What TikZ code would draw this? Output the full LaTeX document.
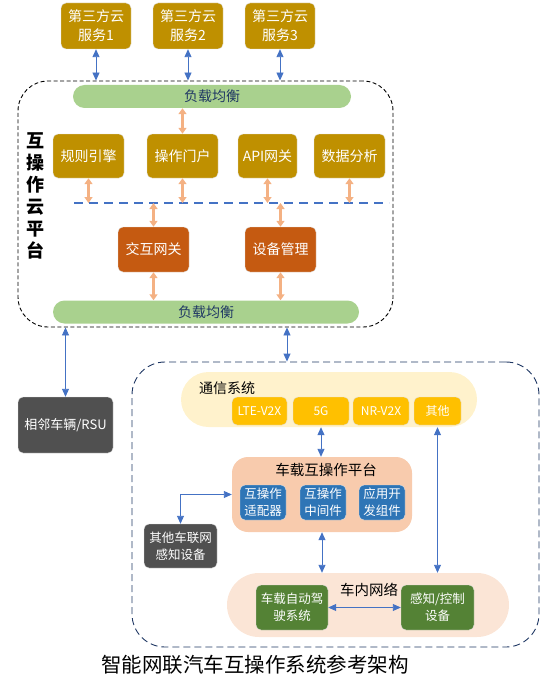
\documentclass[tikz,border=0pt]{standalone}
\usepackage{fontspec}
\setmainfont{Noto Sans CJK SC}
\usepackage{xcolor}
\usetikzlibrary{arrows.meta}
\definecolor{goldbox}{HTML}{BF9000}
\definecolor{lbgreen}{HTML}{A9D18E}
\definecolor{navytext}{HTML}{203864}
\definecolor{rustbox}{HTML}{C55A11}
\definecolor{greybox}{HTML}{505050}
\definecolor{commfill}{HTML}{FFF2CC}
\definecolor{amberbox}{HTML}{FFC000}
\definecolor{platfill}{HTML}{F8CBAD}
\definecolor{bluebox}{HTML}{2E75B6}
\definecolor{incarfill}{HTML}{FBE5D6}
\definecolor{greenbox}{HTML}{548235}
\definecolor{linkblue}{HTML}{4472C4}
\definecolor{linkorange}{HTML}{F4B183}

\begin{document}
\begin{tikzpicture}[x=1pt, y=-1pt,
    box/.style={rectangle, rounded corners=5pt, draw=black!12, text=white, align=center, inner sep=1pt, font=\fontsize{14}{19}\selectfont},
    smallbox/.style={box, font=\fontsize{12.5}{17}\selectfont},
    pill/.style={rectangle, rounded corners=11.5pt, fill=lbgreen, text=navytext, minimum height=23pt, font=\fontsize{14}{16}\selectfont},
    title/.style={inner sep=0pt, text=black, font=\fontsize{14.5}{16}\selectfont},
    barrow/.style={{Triangle[width=7pt,length=8pt]}-{Triangle[width=7pt,length=8pt]}, line width=0.9pt, draw=linkblue},
    oarrow/.style={{Triangle[width=8pt,length=6pt]}-{Triangle[width=8pt,length=6pt]}, line width=2.2pt, draw=linkorange}
]
\useasboundingbox (0,0) rectangle (556,682);

\node[rectangle, draw=black, line width=0.9pt, dash pattern=on 4pt off 2.5pt, rounded corners=30pt, minimum width=375pt, minimum height=246pt] (cloud) at (205.5,204) {};
\node[rectangle, draw=navytext, line width=0.9pt, dash pattern=on 7pt off 4pt, rounded corners=33pt, minimum width=407pt, minimum height=285pt] (vehicle) at (335.5,504.5) {};

\node[box, fill=goldbox, minimum width=70pt, minimum height=46pt] (svc1) at (96,26)  {第三方云\\服务1};
\node[box, fill=goldbox, minimum width=70pt, minimum height=46pt] (svc2) at (188,26) {第三方云\\服务2};
\node[box, fill=goldbox, minimum width=70pt, minimum height=46pt] (svc3) at (280,26) {第三方云\\服务3};

\node[pill, minimum width=278pt] (lbtop) at (212,96.5) {负载均衡};
\node[pill, minimum width=306pt] (lbbot) at (206,312) {负载均衡};

\node[inner sep=0pt, align=center, font=\fontsize{18}{22}\bfseries] (side) at (35,196) {互\\操\\作\\云\\平\\台};

\node[box, fill=goldbox, minimum width=71pt, minimum height=44pt] (rule)   at (88.5,156)  {规则引擎};
\node[box, fill=goldbox, minimum width=71pt, minimum height=44pt] (portal) at (182.5,156) {操作门户};
\node[box, fill=goldbox, minimum width=59pt, minimum height=44pt] (api)    at (267.5,156) {API网关};
\node[box, fill=goldbox, minimum width=71pt, minimum height=44pt] (data)   at (349.5,156) {数据分析};

\coordinate (dl) at (74,203);
\coordinate (dr) at (389,203);
\draw[linkblue, line width=1.8pt, dash pattern=on 9pt off 6pt] (dl) -- (dr);

\node[box, fill=rustbox, minimum width=71pt, minimum height=45pt] (gw)  at (153.5,249.5) {交互网关};
\node[box, fill=rustbox, minimum width=71pt, minimum height=45pt] (dev) at (280.5,249.5) {设备管理};

\foreach \s in {svc1,svc2,svc3}{\draw[barrow] (\s.south) -- (\s.south |- cloud.north);}
\draw[oarrow] (portal.north |- lbtop.south) -- (portal.north);
\foreach \b in {rule,portal,api,data}{\draw[oarrow] (\b.south) -- (\b.south |- dl);}
\foreach \b in {gw,dev}{
  \draw[oarrow] (\b.north |- dl) -- (\b.north);
  \draw[oarrow] (\b.south) -- (\b.south |- lbbot.north);
}

\node[box, fill=greybox, minimum width=95pt, minimum height=56pt, font=\fontsize{13}{16}\selectfont] (rsu) at (65.5,425) {相邻车辆/RSU};
\draw[barrow] (rsu.north |- cloud.south) -- (rsu.north);
\coordinate (vlink) at (287,0);
\draw[barrow] (vlink |- cloud.south) -- (vlink |- vehicle.north);

\node[rectangle, rounded corners=27.5pt, fill=commfill, minimum width=296pt, minimum height=55pt] (comm) at (329,399.5) {};
\node[title, font=\fontsize{14}{16}\selectfont] (commt) at (227,388) {通信系统};
\node[box, fill=amberbox, minimum width=55pt, minimum height=28pt, font=\fontsize{12}{14}\selectfont] (lte)   at (259.5,411) {LTE-V2X};
\node[box, fill=amberbox, minimum width=56pt, minimum height=28pt, font=\fontsize{12}{14}\selectfont] (g5)    at (321,411)   {5G};
\node[box, fill=amberbox, minimum width=56pt, minimum height=28pt, font=\fontsize{12}{14}\selectfont] (nr)    at (381,411)   {NR-V2X};
\node[box, fill=amberbox, minimum width=47pt, minimum height=28pt, font=\fontsize{12}{14}\selectfont] (other) at (437.5,411) {其他};

\node[rectangle, rounded corners=16pt, fill=platfill, minimum width=180pt, minimum height=75pt] (plat) at (322,494.5) {};
\node[title] (platt) at (326,470) {车载互操作平台};
\node[smallbox, fill=bluebox, minimum width=46pt, minimum height=35pt] (adapt) at (263,502.5) {互操作\\适配器};
\node[smallbox, fill=bluebox, minimum width=46pt, minimum height=35pt] (mid)   at (323,502.5) {互操作\\中间件};
\node[smallbox, fill=bluebox, minimum width=46pt, minimum height=35pt] (app)   at (382,502.5) {应用开\\发组件};

\node[smallbox, fill=greybox, minimum width=73pt, minimum height=44pt] (v2x) at (180.5,546) {其他车联网\\感知设备};

\node[rectangle, rounded corners=32pt, fill=incarfill, minimum width=282pt, minimum height=64pt] (incar) at (368,605) {};
\node[title] (incart) at (369,590) {车内网络};
\node[smallbox, fill=greenbox, minimum width=72pt, minimum height=45pt] (ads)   at (292,607.5)   {车载自动驾\\驶系统};
\node[smallbox, fill=greenbox, minimum width=73pt, minimum height=45pt] (sense) at (437.5,607.5) {感知/控制\\设备};

\draw[barrow] (plat.north -| g5.south) -- (g5.south |- comm.south);
\draw[barrow] (plat.south) -- (incar.north -| plat.south);
\draw[barrow] (other.south |- comm.south) -- (other.south |- incar.north);
\draw[barrow] (v2x.north) |- (plat.west);
\draw[barrow] (ads.east) -- (sense.west);

\node[inner sep=0pt, font=\fontsize{20.5}{22}\selectfont] (caption) at (255,665) {智能网联汽车互操作系统参考架构};
\end{tikzpicture}
\end{document}
